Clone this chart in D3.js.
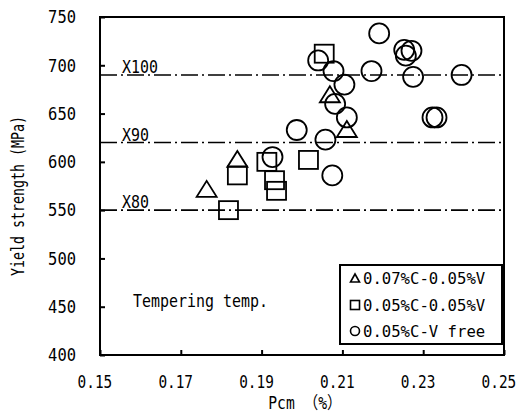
<!DOCTYPE html>
<html>
<head>
<meta charset="utf-8">
<script src="https://cdn.jsdelivr.net/npm/d3@7"></script>
<style>
  html, body { margin: 0; padding: 0; background: #fff; }
  svg { display: block; }
  text { font-family: "DejaVu Sans Mono", "Liberation Mono", "Noto Sans CJK JP", monospace; fill: #000; }
</style>
</head>
<body>
<svg id="chart" width="520" height="412"></svg>
<script>
// Yield strength vs. Pcm for three steel chemistries
const triPcm = [0.2069, 0.2111, 0.1840, 0.1764];
const triYS  = [670, 634, 603, 572];

const sqPcm  = [0.2055, 0.1913, 0.2016, 0.1840, 0.1932, 0.1937, 0.1818];
const sqYS   = [712, 600, 602, 586, 581, 570, 550];

const cirPcm = [0.2191, 0.2253, 0.2271, 0.2257, 0.2040, 0.2172, 0.2078, 0.2395, 0.2275,
                0.2105, 0.2082, 0.2111, 0.2323, 0.2333, 0.1987, 0.2058, 0.1927, 0.2075];
const cirYS  = [733, 716, 715, 710, 705, 694, 694, 690, 688,
                680, 660, 646, 646, 646, 633, 623, 605, 586];

// API 5L grade minimum yield levels
const gradeNames  = ["X100", "X90", "X80"];
const gradeLevels = [690, 620, 550];

const xTicks = [0.15, 0.17, 0.19, 0.21, 0.23, 0.25];
const yTicks = [400, 450, 500, 550, 600, 650, 700, 750];

const seriesLabels = ["0.07%C-0.05%V", "0.05%C-0.05%V", "0.05%C-V free"];

const svg = d3.select("#chart");
const L = 100, R = 504, T = 17, B = 355;

const x = d3.scaleLinear().domain([0.15, 0.25]).range([L, R]);
const y = d3.scaleLinear().domain([400, 750]).range([B, T]);

// squeeze monospace text to a fixed per-character advance
function fit(sel, perChar) {
  sel.each(function () {
    const n = this.textContent.length;
    d3.select(this).attr("textLength", n * perChar).attr("lengthAdjust", "spacingAndGlyphs");
  });
}

// grade reference lines
const g = svg.append("g");
g.selectAll("line.grade").data(gradeLevels).join("line")
  .attr("class", "grade")
  .attr("x1", L).attr("x2", R)
  .attr("y1", d => y(d)).attr("y2", d => y(d))
  .attr("stroke", "#000").attr("stroke-width", 1.6)
  .attr("stroke-dasharray", "17,4,2,4");
g.selectAll("text.grade").data(gradeNames).join("text")
  .attr("class", "grade")
  .attr("x", 122)
  .attr("y", (d, i) => y(gradeLevels[i]) - 2)
  .attr("font-size", 18)
  .text(d => d)
  .call(fit, 9);

// axes
const yAxis = d3.axisLeft(y).tickValues(yTicks).tickSize(-5).tickSizeOuter(0).tickPadding(24)
  .tickFormat(d3.format("d"));
const xAxis = d3.axisBottom(x).tickValues(xTicks).tickSize(-5).tickSizeOuter(0).tickPadding(20)
  .tickFormat(d3.format(".2f"));

const ya = svg.append("g").attr("transform", `translate(${L},0)`).call(yAxis);
const xa = svg.append("g").attr("transform", `translate(0,${B})`).call(xAxis);
[ya, xa].forEach(a => {
  a.select(".domain").remove();
  a.selectAll(".tick line").attr("stroke", "#000").attr("stroke-width", 2);
  a.selectAll(".tick text").attr("font-size", 18).attr("font-family", null);
});
ya.selectAll(".tick text").call(fit, 9.3);
// narrow the bottom labels horizontally about their own centre
xa.selectAll(".tick text").attr("transform", "scale(0.8,1)").attr("dx", -7);

// frame
svg.append("rect")
  .attr("x", L).attr("y", T).attr("width", R - L).attr("height", B - T)
  .attr("fill", "none").attr("stroke", "#000").attr("stroke-width", 2);

// markers
const marks = svg.append("g").attr("fill", "none").attr("stroke", "#000").attr("stroke-width", 1.8);

function triPath(cx, cy, w, h) {
  const p = d3.path();
  p.moveTo(cx, cy - h / 2);
  p.lineTo(cx + w / 2, cy + h / 2);
  p.lineTo(cx - w / 2, cy + h / 2);
  p.closePath();
  return p.toString();
}

marks.selectAll("circle").data(d3.range(cirPcm.length)).join("circle")
  .attr("cx", i => x(cirPcm[i])).attr("cy", i => y(cirYS[i])).attr("r", 10);

marks.selectAll("rect").data(d3.range(sqPcm.length)).join("rect")
  .attr("x", i => x(sqPcm[i]) - 9.5).attr("y", i => y(sqYS[i]) - 9)
  .attr("width", 19).attr("height", 18);

marks.selectAll("path").data(d3.range(triPcm.length)).join("path")
  .attr("d", i => triPath(x(triPcm[i]), y(triYS[i]), 20, 16));

// note
svg.append("text").attr("x", 133).attr("y", 307).attr("font-size", 18)
  .text("Tempering temp.").call(fit, 9);

// legend
const lg = svg.append("g");
lg.append("rect").attr("x", 340).attr("y", 265).attr("width", 162).attr("height", 79)
  .attr("fill", "#fff").attr("stroke", "#000").attr("stroke-width", 2);
const rowY = [278, 305, 331];
lg.selectAll("text").data(seriesLabels).join("text")
  .attr("x", 363).attr("y", (d, i) => rowY[i] + 6)
  .attr("font-size", 16)
  .text(d => d)
  .call(fit, 9.4);
const lm = lg.append("g").attr("fill", "none").attr("stroke", "#000").attr("stroke-width", 1.6);
lm.append("path").attr("d", triPath(355, rowY[0], 9, 8));
lm.append("rect").attr("x", 350.5).attr("y", rowY[1] - 4.5).attr("width", 9).attr("height", 9);
lm.append("circle").attr("cx", 355).attr("cy", rowY[2]).attr("r", 4.5);

// axis titles
svg.append("text").attr("x", 305).attr("y", 409).attr("text-anchor", "middle")
  .attr("font-size", 17).text("Pcm （%）").call(fit, 10.5);
svg.append("text")
  .attr("transform", "translate(24,196) rotate(-90)")
  .attr("text-anchor", "middle").attr("font-size", 18)
  .text("Yield strength (MPa)").call(fit, 8);
</script>
</body>
</html>
